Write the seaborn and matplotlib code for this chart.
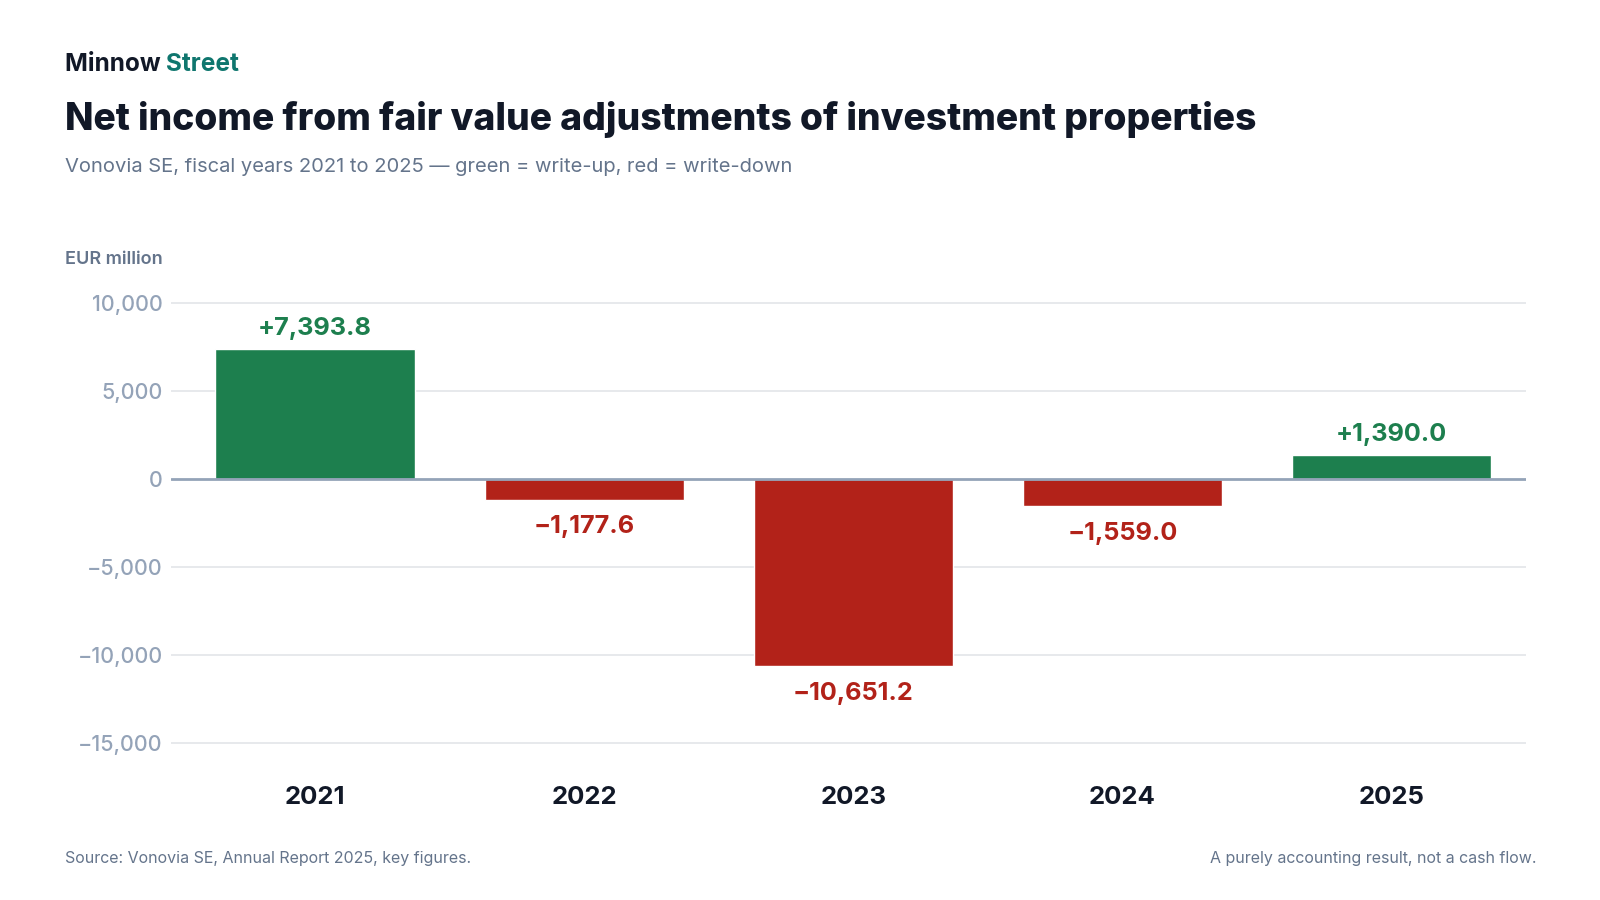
import matplotlib
matplotlib.use("Agg")
import matplotlib.pyplot as plt
from matplotlib.ticker import FixedLocator, FuncFormatter
import seaborn as sns
import pandas as pd

years = ["2021", "2022", "2023", "2024", "2025"]
values = [7393.8, -1177.6, -10651.2, -1559.0, 1390.0]
y_ticks = [10000, 5000, 0, -5000, -10000, -15000]

GREEN = "#1d7f4e"
RED = "#b22219"
INK = "#111827"
SLATE = "#64748b"
MUTED = "#94a3b8"

sns.set_theme(style="white")
plt.rcParams["font.family"] = ["Inter", "DejaVu Sans"]

df = pd.DataFrame({"year": years, "value": values})
df["sign"] = ["up" if v >= 0 else "down" for v in df["value"]]

fig = plt.figure(figsize=(16, 9), dpi=100)
ax = fig.add_axes([0.1069, 0.1549, 0.8469, 0.528])

sns.barplot(data=df, x="year", y="value", hue="sign",
            palette={"up": GREEN, "down": RED}, dodge=False,
            width=0.74, legend=False, ax=ax, saturation=1)

ax.set_xlim(-0.535, 4.5)
ax.set_ylim(-16000, 11000)

# grid + zero line
for t in y_ticks:
    if t == 0:
        continue
    ax.axhline(t, color="#e5e7eb", lw=1.3, zorder=0)
ax.axhline(0, color=MUTED, lw=2, zorder=3)

for s in ax.spines.values():
    s.set_visible(False)

ax.yaxis.set_major_locator(FixedLocator(y_ticks))
ax.yaxis.set_major_formatter(FuncFormatter(
    lambda v, p: f"{v:,.0f}".replace("-", "\u2212")))
ax.tick_params(axis="y", length=0, pad=6, labelsize=15.5, labelcolor=MUTED)
for lab in ax.get_yticklabels():
    lab.set_fontweight("medium")
ax.tick_params(axis="x", length=0, pad=18, labelsize=18.5, labelcolor=INK)
for lab in ax.get_xticklabels():
    lab.set_fontweight("bold")
ax.set_xlabel("")
ax.set_ylabel("")

# value labels
for i, v in enumerate(values):
    txt = f"{v:+,.1f}".replace("-", "\u2212")
    if v >= 0:
        ax.annotate(txt, (i, v), xytext=(0, 10), textcoords="offset points",
                    ha="center", va="baseline", fontsize=18.2,
                    fontweight="bold", color=GREEN)
    else:
        ax.annotate(txt, (i, v), xytext=(0, -24), textcoords="offset points",
                    ha="center", va="baseline", fontsize=18.2,
                    fontweight="bold", color=RED)

# header
x0 = 0.0406
t1 = fig.text(x0, 0.9211, "Minnow ", fontsize=17.6, fontweight="bold",
              color=INK, va="baseline")
fig.canvas.draw()
bb = t1.get_window_extent()
fig.text(bb.x1 / fig.bbox.width, 0.9211, "Street", fontsize=17.6,
         fontweight="bold", color="#0f766e", va="baseline")
fig.text(x0, 0.8556, "Net income from fair value adjustments of investment properties",
         fontsize=26.8, fontweight="heavy", color=INK, va="baseline")
fig.text(x0, 0.8089,
         "Vonovia SE, fiscal years 2021 to 2025 \u2014 green = write-up, red = write-down",
         fontsize=14.5, color=SLATE, va="baseline")
fig.text(x0, 0.7067, "EUR million", fontsize=13, fontweight="semibold",
         color=SLATE, va="baseline")

# footer
fig.text(x0, 0.0411, "Source: Vonovia SE, Annual Report 2025, key figures.",
         fontsize=11.5, color=SLATE, va="baseline")
fig.text(0.96, 0.0411, "A purely accounting result, not a cash flow.",
         fontsize=11.5, color=SLATE, va="baseline", ha="right")

fig.savefig("out.png", dpi=100, facecolor="white")
